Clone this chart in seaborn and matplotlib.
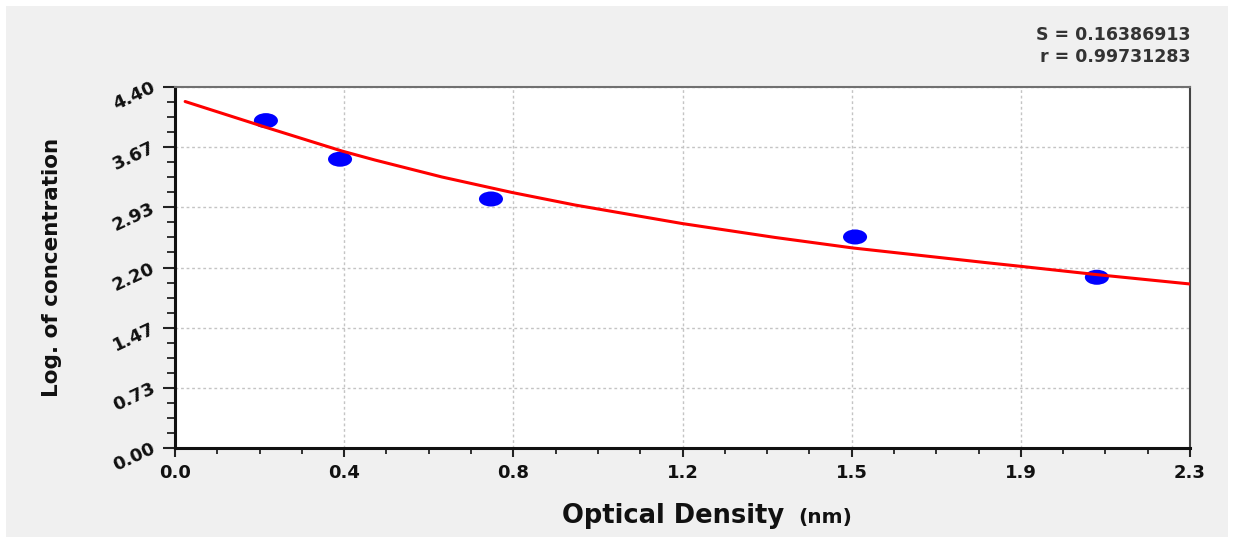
import numpy as np
import seaborn as sns
import matplotlib as mpl
import matplotlib.pyplot as plt
from matplotlib.path import Path
from matplotlib.patches import Rectangle
from matplotlib.transforms import Affine2D
from matplotlib.ticker import FixedLocator, AutoMinorLocator

sns.set_style(style='white')
plt.rcParams['font.family'] = ['DejaVu Sans']

############################# DATA #############################

# Measured points
od_points   = [0.206, 0.374, 0.716, 1.541, 2.089]
conc_points = [3.99, 3.52, 3.035, 2.572, 2.081]

# Fitted curve
od_fit   = [0.023, 0.204, 0.378, 0.453, 0.605, 0.764, 0.906, 1.149, 1.360,
            1.536, 1.835, 1.915, 2.089, 2.300]
conc_fit = [4.223, 3.912, 3.620, 3.510, 3.303, 3.114, 2.962, 2.736, 2.566,
            2.438, 2.261, 2.215, 2.113, 1.999]

x_tick_labels = ["0.0", "0.4", "0.8", "1.2", "1.5", "1.9", "2.3"]
y_tick_labels = ["0.00", "0.73", "1.47", "2.20", "2.93", "3.67", "4.40"]

stats_lines = ["S = 0.16386913", "r = 0.99731283"]

############################# PLOT #############################

W, H = 1233, 539
fig = plt.figure(figsize=(W / 100, H / 100), dpi=100)
fig.patch.set_facecolor('white')
fig.patches.append(Rectangle((6 / W, 2 / H), 1222 / W, 531 / H,
                             transform=fig.transFigure, facecolor='#f0f0f0',
                             edgecolor='none', zorder=-10))

ax = fig.add_axes([175 / W, 1 - 448 / H, 1015 / W, 361 / H])
ax.set_facecolor('white')

ellipse = Path.unit_circle().transformed(Affine2D().scale(1.6, 1.0))
sns.scatterplot(x=od_points, y=conc_points, ax=ax, marker=ellipse, s=300,
                color='#0000ff', edgecolor='none', linewidth=0, zorder=3)
sns.lineplot(x=od_fit, y=conc_fit, ax=ax, sort=False, estimator=None,
             color='#ff0000', linewidth=2.2, zorder=4)

ax.set_xlim(0, 2.3)
ax.set_ylim(0, 4.4)
ax.xaxis.set_major_locator(FixedLocator(np.linspace(0, 2.3, len(x_tick_labels))))
ax.yaxis.set_major_locator(FixedLocator(np.linspace(0, 4.4, len(y_tick_labels))))
ax.xaxis.set_minor_locator(AutoMinorLocator(4))
ax.yaxis.set_minor_locator(AutoMinorLocator(4))
ax.set_xticklabels(x_tick_labels, fontsize=13, fontweight='bold', color='#111111')
ax.set_yticklabels(y_tick_labels, fontsize=13, fontweight='bold', color='#111111')
for lab in ax.get_yticklabels():
    lab.set_rotation(25)
    lab.set_rotation_mode('anchor')
    lab.set_horizontalalignment('right')
    lab.set_verticalalignment('center')

ax.tick_params(axis='x', which='major', direction='out', length=6.5, width=1.5,
               color='#222222', pad=5, bottom=True)
ax.tick_params(axis='x', which='minor', direction='out', length=4, width=1.3,
               color='#222222', bottom=True)
ax.tick_params(axis='y', which='major', direction='out', length=9, width=1.5,
               color='#222222', pad=6, left=True)
ax.tick_params(axis='y', which='minor', direction='out', length=5.5, width=1.3,
               color='#222222', left=True)

ax.grid(True, which='major', color='#c4c4c4', linestyle=(0, (2, 2)), linewidth=1)
ax.set_axisbelow(True)

for side in ['left', 'bottom']:
    ax.spines[side].set_color('#111111')
    ax.spines[side].set_linewidth(2.2)
ax.spines['top'].set_color('#707070')
ax.spines['top'].set_linewidth(1.5)
ax.spines['right'].set_color('#444444')
ax.spines['right'].set_linewidth(1.5)

ax.set_xlabel("")
ax.set_ylabel("Log. of concentration", fontsize=15.5, fontweight='bold', color='#111111')
ax.yaxis.set_label_coords((62 - 175) / 1015, 0.5)

fig.text(562 / W, 1 - 523 / H, "Optical Density", ha='left', va='baseline',
         fontsize=18.5, fontweight='bold', color='#111111')
fig.text(798 / W, 1 - 523 / H, "(nm)", ha='left', va='baseline',
         fontsize=14.5, fontweight='bold', color='#111111')

fig.text(1190 / W, 1 - 35 / H, stats_lines[0], ha='right', va='center',
         fontsize=12.5, fontweight='bold', color='#333333')
fig.text(1190 / W, 1 - 57 / H, stats_lines[1], ha='right', va='center',
         fontsize=12.5, fontweight='bold', color='#333333')

fig.savefig('out.png', dpi=100)
